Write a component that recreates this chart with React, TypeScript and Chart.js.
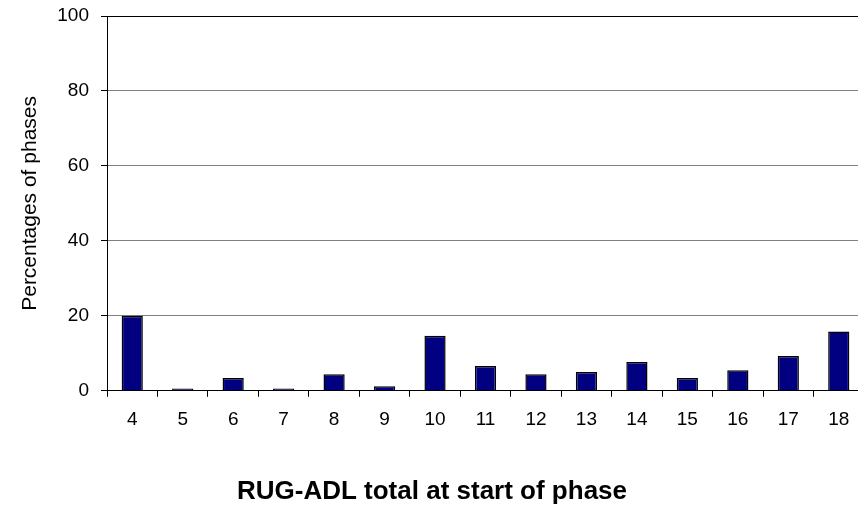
import React, { useEffect, useRef } from "react";
import { Chart, registerables } from "chart.js";

Chart.register(...registerables);

const categories = ["4", "5", "6", "7", "8", "9", "10", "11", "12", "13", "14", "15", "16", "17", "18"];
const percentages = [20, 0.6, 3.4, 0.6, 4.4, 1.2, 14.7, 6.6, 4.4, 5.0, 7.7, 3.4, 5.5, 9.3, 15.8];
const yTitle = "Percentages of phases";
const xTitle = "RUG-ADL total at start of phase";

const FONT = "'Liberation Sans', Arial, sans-serif";

export default function App() {
  const ref = useRef<HTMLCanvasElement | null>(null);

  useEffect(() => {
    if (!ref.current) return;
    const chart = new Chart(ref.current, {
      type: "bar",
      data: {
        labels: categories,
        datasets: [
          {
            data: percentages,
            backgroundColor: "#000080",
            borderColor: "#000000",
            borderWidth: 1.5,
            barPercentage: 0.42,
            categoryPercentage: 1,
          },
        ],
      },
      options: {
        responsive: false,
        animation: false,
        layout: { padding: { top: 16, left: 0, right: 0, bottom: 0 } },
        plugins: {
          legend: { display: false },
          tooltip: { enabled: false },
          title: {
            display: true,
            position: "bottom",
            text: xTitle,
            color: "#000",
            font: { family: FONT, size: 26, weight: "bold" },
            padding: { top: 0, bottom: 2 },
          },
        },
        scales: {
          x: {
            offset: true,
            grid: {
              offset: true,
              drawOnChartArea: false,
              drawTicks: true,
              tickLength: 6,
              tickColor: "#000",
              tickWidth: 1,
            },
            border: { display: true, color: "#000", width: 1 },
            ticks: {
              color: "#000",
              font: { family: FONT, size: 19 },
              padding: 12,
              maxRotation: 0,
              autoSkip: false,
            },
            afterFit: (scale: any) => {
              scale.height = 85;
              scale.paddingLeft = 0;
              scale.paddingRight = 0;
            },
          },
          y: {
            min: 0,
            max: 100,
            ticks: {
              stepSize: 20,
              color: "#000",
              font: { family: FONT, size: 19 },
              padding: 12,
            },
            grid: {
              color: (ctx: any) => (ctx.tick && ctx.tick.value === 100 ? "#000" : "#808080"),
              lineWidth: 1,
              drawTicks: true,
              tickLength: 6,
              tickColor: "#000",
            },
            border: { display: true, color: "#000", width: 1 },
            title: {
              display: true,
              text: yTitle,
              color: "#000",
              font: { family: FONT, size: 21 },
              padding: { top: 18, bottom: 0 },
            },
            afterFit: (scale: any) => {
              scale.width = 107;
              scale.paddingTop = 0;
              scale.paddingBottom = 0;
            },
          },
        },
      },
    });
    return () => chart.destroy();
  }, []);

  return (
    <div
      style={{
        position: "fixed",
        left: 0,
        top: 0,
        width: 858,
        height: 509,
        overflow: "hidden",
        background: "#fff",
      }}
    >
      <canvas ref={ref} width={864} height={509} style={{ width: 864, height: 509, display: "block" }} />
    </div>
  );
}
